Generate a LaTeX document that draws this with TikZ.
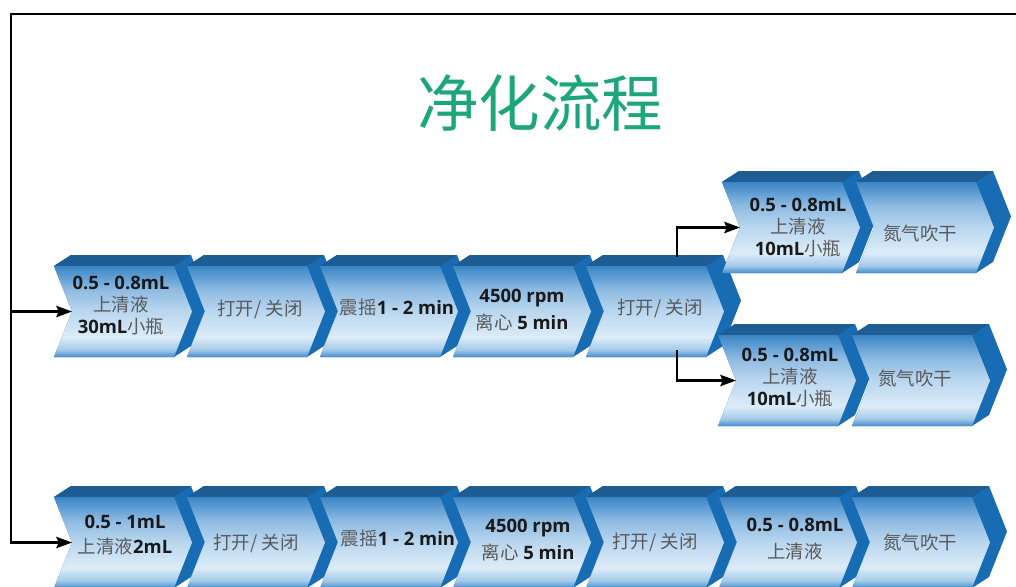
\documentclass[tikz,border=0pt]{standalone}
\usepackage{fontspec}
\usepackage{tikz}
\usetikzlibrary{arrows.meta}
\setmainfont{Open Sans}
\newfontfamily\cjk{Noto Sans CJK SC}
\definecolor{ftop}{HTML}{3A85C6}
\definecolor{fupper}{HTML}{8EBBE2}
\definecolor{fmid}{HTML}{BAD7EF}
\definecolor{flight}{HTML}{DCECF8}
\definecolor{flow}{HTML}{A4CAEA}
\definecolor{fbot}{HTML}{428BCB}
\definecolor{sideblue}{HTML}{186CB3}
\definecolor{topblue}{HTML}{1E5D94}
\definecolor{zhgray}{HTML}{5A5A5A}
\definecolor{titlegreen}{HTML}{1DA679}
\pgfdeclareverticalshading{chevface}{100bp}{color(0bp)=(fbot); color(25bp)=(fbot); color(29bp)=(flow); color(36bp)=(flight); color(50bp)=(fmid); color(62bp)=(fupper); color(75bp)=(ftop); color(100bp)=(ftop)}
\newcommand\zh[1]{{\cjk\mdseries\color{zhgray}#1}}

\begin{document}
\begin{tikzpicture}[x=0.02cm,y=-0.02cm,
  wire/.style={line width=1.2pt,-{Stealth[length=9pt,width=6.5pt,inset=1.5pt]}},
  txt/.style={align=center,font=\bfseries\fontsize{10.5}{12.5}\selectfont,text=black!90},
  chev/.pic={
    \fill[sideblue] (0,0) -- (17,-11) -- (137,-11) -- (155,34.5) -- (137,80) -- (120,91) -- (0,91) -- (18,45.5) -- cycle;
    \fill[topblue] (0,0) -- (17,-11) -- (137,-11) -- (120,0) -- cycle;
    \shade[shading=chevface] (0,0) -- (120,0) -- (138,45.5) -- (120,91) -- (0,91) -- (18,45.5) -- cycle;
    \coordinate (-in) at (18,45.5);
  }]
\useasboundingbox (0,0) rectangle (1016,586);

\node (title) at (540,103) {\cjk\color{titlegreen}\fontsize{35}{40}\selectfont 净化流程};

% bottom row
\pic (b1) at (54,497) {chev};
\pic (b2) at (187,497) {chev};
\pic (b3) at (320,497) {chev};
\pic (b4) at (453,497) {chev};
\pic (b5) at (586,497) {chev};
\pic (b6) at (719,497) {chev};
\pic (b7) at (852,497) {chev};
\node[txt] (b1t) at (125,535) {0.5 - 1mL\\[2pt]\zh{上清液}2mL};
\node[txt] (b2t) at (256,543) {\zh{打开/ 关闭}};
\node[txt] (b3t) at (398,539) {\zh{震摇}1 - 2 min};
\node[txt] (b4t) at (528,540) {4500 rpm\\[3pt]\zh{离心} 5 min};
\node[txt] (b5t) at (655,542) {\zh{打开/ 关闭}};
\node[txt] (b6t) at (795,539) {0.5 - 0.8mL\\[3pt]\zh{上清液}};
\node[txt] (b7t) at (920,542) {\zh{氮气吹干}};

% top row
\pic (s1) at (54,266) {chev};
\pic (s2) at (187,266) {chev};
\pic (s3) at (320,266) {chev};
\pic (s4) at (453,266) {chev};
\pic (s5) at (586,266) {chev};
\node[txt] (s1t) at (121,306) {0.5 - 0.8mL\\\zh{上清液}\\30mL\zh{小瓶}};
\node[txt] (s2t) at (260,309) {\zh{打开/ 关闭}};
\node[txt] (s3t) at (397,308) {\zh{震摇}1 - 2 min};
\node[txt] (s4t) at (522,310) {4500 rpm\\[3pt]\zh{离心} 5 min};
\node[txt] (s5t) at (660,308) {\zh{打开/ 关闭}};

% branches
\pic (u1) at (722,182) {chev};
\pic (u2) at (856,182) {chev};
\node[txt] (u1t) at (798,228) {0.5 - 0.8mL\\\zh{上清液}\\10mL\zh{小瓶}};
\node[txt] (u2t) at (920,233) {\zh{氮气吹干}};
\pic (l1) at (718,335) {chev};
\pic (l2) at (852,335) {chev};
\node[txt] (l1t) at (790,378) {0.5 - 0.8mL\\\zh{上清液}\\10mL\zh{小瓶}};
\node[txt] (l2t) at (915,378) {\zh{氮气吹干}};

% connectors
\coordinate (corner) at (11,14);
\coordinate (edge) at (1016,14);
\coordinate (up) at (677,257);
\coordinate (down) at (677,350);
\draw[wire] (edge) -- (corner) |- (b1-in);
\draw[wire] (corner |- s1-in) -- (s1-in);
\draw[wire] (up) |- (u1-in);
\draw[wire] (down) |- (l1-in);
\end{tikzpicture}
\end{document}
